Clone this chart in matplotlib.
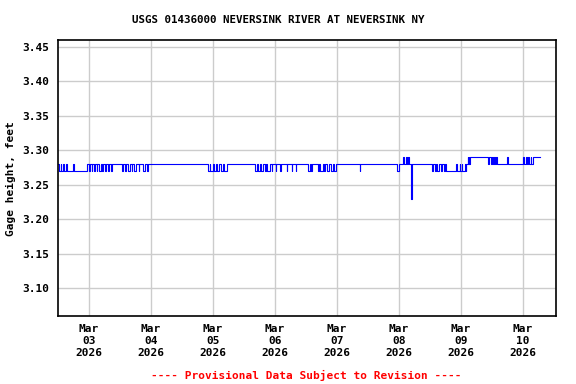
import matplotlib
matplotlib.use('Agg')
import numpy as np
import pandas as pd
import matplotlib.pyplot as plt
import matplotlib.dates as mdates

# gage readings: hours after 2026-03-02 12:00 where the value changes, and the new value
change_hours = [0, 0.5, 1, 1.25, 2, 2.5, 3.25, 3.5, 5.75, 6.0,
                11.25, 12, 12.5, 13, 13.25, 14, 14.5, 15, 15.25, 15.75, 16.5, 17, 17.5, 18.25, 18.5, 19.25, 19.75, 20.5, 21,
                24.75, 25.25, 26, 26.5, 27.25, 27.75, 28.5, 28.75, 29.5, 30, 31.25, 31.5, 33, 33.5, 34.5, 35,
                58, 58.75, 59, 60, 60.25, 61, 61.5, 62.5, 63, 64, 64.25, 65.25,
                76.25, 77, 77.25, 78, 78.5, 79.25, 80, 80.5, 81, 82, 82.75, 83, 84.25, 84.5, 86, 86.25, 88.5, 88.75, 90.5, 90.75, 92, 92.25,
                96.75, 97.5, 98, 98.25, 100.5, 101, 101.5, 102.5, 103, 103.5, 104.25, 105, 105.5, 106.5, 107, 107.5,
                116.75, 117,
                131.25, 132, 133.5, 134, 134.5, 135.25, 135.5, 135.75, 136.5, 136.75, 137,
                144.75, 145.25, 145.75, 146.25, 146.75, 147.5, 148.25, 148.75, 149.25, 149.75, 150,
                154, 154.25, 155.5, 155.75, 156.25, 156.5,
                157.5, 157.75, 158, 158.5, 158.75, 159, 159.25, 159.5,
                166.5, 166.75, 167.5, 168, 168.25, 168.75, 169.25, 169.5, 170,
                173.75, 174,
                180, 180.25, 181, 181.5, 182, 182.25, 183, 183.25, 183.75,
                186.5]
gage_values = [3.28, 3.27, 3.28, 3.27, 3.28, 3.27, 3.28, 3.27, 3.28, 3.27,
               3.28, 3.27, 3.28, 3.27, 3.28, 3.27, 3.28, 3.27, 3.28, 3.27, 3.28, 3.27, 3.28, 3.27, 3.28, 3.27, 3.28, 3.27, 3.28,
               3.27, 3.28, 3.27, 3.28, 3.27, 3.28, 3.27, 3.28, 3.27, 3.28, 3.27, 3.28, 3.27, 3.28, 3.27, 3.28,
               3.27, 3.28, 3.27, 3.28, 3.27, 3.28, 3.27, 3.28, 3.27, 3.28, 3.27, 3.28,
               3.27, 3.28, 3.27, 3.28, 3.27, 3.28, 3.27, 3.28, 3.27, 3.28, 3.27, 3.28, 3.27, 3.28, 3.27, 3.28, 3.27, 3.28, 3.27, 3.28, 3.27, 3.28,
               3.27, 3.28, 3.27, 3.28, 3.27, 3.28, 3.27, 3.28, 3.27, 3.28, 3.27, 3.28, 3.27, 3.28, 3.27, 3.28,
               3.27, 3.28,
               3.27, 3.28, 3.29, 3.28, 3.29, 3.28, 3.29, 3.28, 3.26, 3.23, 3.28,
               3.27, 3.28, 3.27, 3.28, 3.27, 3.28, 3.27, 3.28, 3.27, 3.28, 3.27,
               3.28, 3.27, 3.28, 3.27, 3.28, 3.27,
               3.28, 3.27, 3.28, 3.29, 3.28, 3.29, 3.28, 3.29,
               3.28, 3.29, 3.28, 3.29, 3.28, 3.29, 3.28, 3.29, 3.28,
               3.29, 3.28,
               3.29, 3.28, 3.29, 3.28, 3.29, 3.28, 3.29, 3.28, 3.29,
               3.29]

start = pd.Timestamp('2026-03-02 12:00')
times = [start + pd.Timedelta(hours=h) for h in change_hours]

plt.rcParams['font.family'] = 'DejaVu Sans Mono'
plt.rcParams['font.weight'] = 'bold'

fig = plt.figure(figsize=(5.76, 3.84), dpi=100)
ax = fig.add_axes([58/576, 1-316/384, 498/576, 276/384])

ax.plot(times, gage_values, drawstyle='steps-post', color='#0000ff', lw=0.8)

ax.set_xlim(start, pd.Timestamp('2026-03-10 12:45'))
ax.set_ylim(3.06, 3.46)
ax.set_yticks([3.10, 3.15, 3.20, 3.25, 3.30, 3.35, 3.40, 3.45])
ax.yaxis.set_major_formatter(matplotlib.ticker.FormatStrFormatter('%.2f'))
ax.xaxis.set_major_locator(mdates.DayLocator())
ax.xaxis.set_major_formatter(mdates.DateFormatter('%b\n%d\n%Y'))
ax.tick_params(length=0, labelsize=8, pad=6)
for lab in ax.get_xticklabels():
    lab.set_linespacing(1.25)
ax.grid(True, color='#cccccc', lw=1)
ax.set_axisbelow(True)
for s in ax.spines.values():
    s.set_linewidth(1.2)

fig.text(11/576, 1-179/384, 'Gage height, feet', rotation=90,
         ha='center', va='center', fontsize=8, fontweight='bold')
fig.text(278/576, 1-20/384, 'USGS 01436000 NEVERSINK RIVER AT NEVERSINK NY',
         ha='center', va='center', fontsize=7.8, fontweight='bold')
fig.text(306/576, 1-375/384, '---- Provisional Data Subject to Revision ----',
         ha='center', va='center', fontsize=8, color='red', fontweight='bold')

plt.savefig('out.png', dpi=100)
